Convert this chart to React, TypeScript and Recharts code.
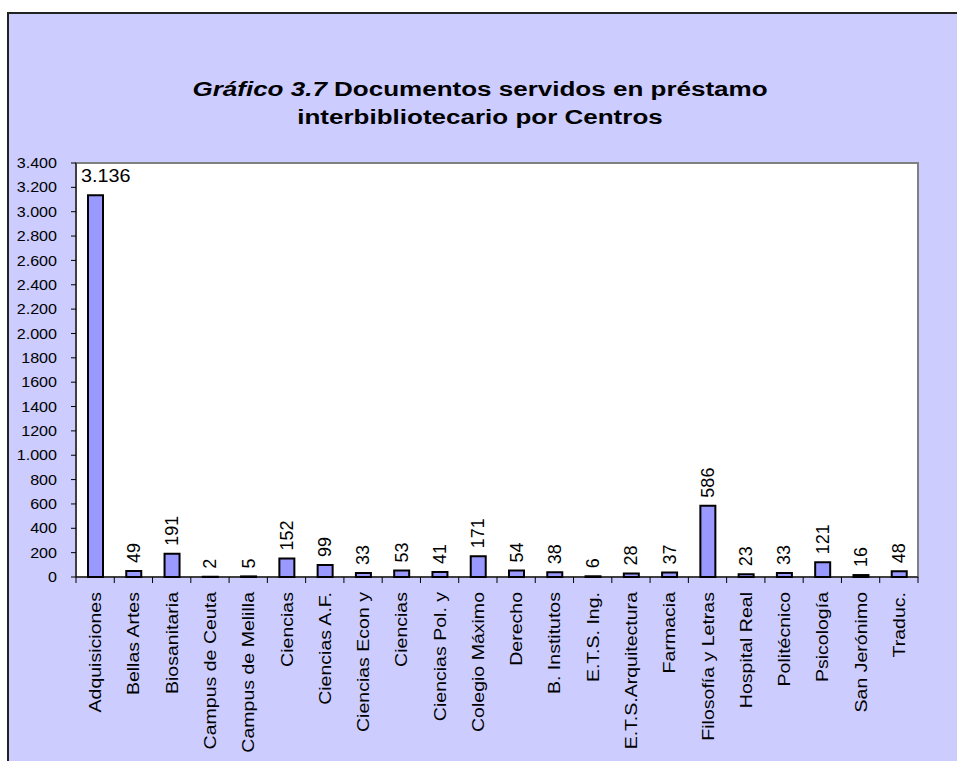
import React from "react";
import { BarChart, Bar, XAxis, YAxis, ReferenceArea, LabelList } from "recharts";

const categories = [
  "Adquisiciones", "Bellas Artes", "Biosanitaria", "Campus de Ceuta", "Campus de Melilla",
  "Ciencias", "Ciencias A.F.", "Ciencias Econ y", "Ciencias", "Ciencias Pol. y",
  "Colegio Máximo", "Derecho", "B. Institutos", "E.T.S. Ing.", "E.T.S.Arquitectura",
  "Farmacia", "Filosofía y Letras", "Hospital Real", "Politécnico", "Psicología",
  "San Jerónimo", "Traduc.",
];
const values = [3136, 49, 191, 2, 5, 152, 99, 33, 53, 41, 171, 54, 38, 6, 28, 37, 586, 23, 33, 121, 16, 48];
const valueLabels = ["3.136", "49", "191", "2", "5", "152", "99", "33", "53", "41", "171", "54", "38", "6", "28", "37", "586", "23", "33", "121", "16", "48"];
const yTicks = [0, 200, 400, 600, 800, 1000, 1200, 1400, 1600, 1800, 2000, 2200, 2400, 2600, 2800, 3000, 3200, 3400];
const yTickLabels = ["0", "200", "400", "600", "800", "1.000", "1200", "1400", "1600", "1800", "2.000", "2.200", "2.400", "2.600", "2.800", "3.000", "3.200", "3.400"];
const titleItalic = "Gráfico 3.7";
const titleRest = " Documentos servidos en préstamo";
const titleLine2 = "interbibliotecario por Centros";

const data = categories.map((name, i) => ({ name, value: values[i], label: valueLabels[i], idx: i }));

const FONT = "'Liberation Sans', Arial, sans-serif";

const XTick = (props: any) => {
  const { x, y, payload, index } = props;
  const half = payload && payload.offset ? payload.offset : 19.1;
  const top = y - 8;
  const lines = [
    <line key="l" x1={x - half} y1={top} x2={x - half} y2={top + 6} stroke="#000" strokeWidth={1} />,
  ];
  if (index === categories.length - 1) {
    lines.push(<line key="r" x1={x + half} y1={top} x2={x + half} y2={top + 6} stroke="#000" strokeWidth={1} />);
  }
  const ty = top + 15;
  return (
    <g>
      {lines}
      <text
        x={0}
        y={0}
        transform={`translate(${x}, ${ty}) rotate(-90) scale(1.15, 1)`}
        textAnchor="end"
        dominantBaseline="central"
        fontSize={17}
        fontFamily={FONT}
        fill="#000"
      >
        {payload.value}
      </text>
    </g>
  );
};

const YTick = (props: any) => {
  const { x, y, payload } = props;
  const label = yTickLabels[yTicks.indexOf(payload.value)];
  return (
    <text
      x={0}
      y={0}
      transform={`translate(${x - 12}, ${y}) scale(1.15, 1)`}
      textAnchor="end"
      dominantBaseline="central"
      fontSize={14}
      fontFamily={FONT}
      fill="#000"
    >
      {label}
    </text>
  );
};

const ValueLabel = (props: any) => {
  const { x, y, width, index } = props;
  const v = values[index];
  const txt = valueLabels[index];
  if (v > 3000) {
    return (
      <text
        x={0}
        y={0}
        transform={`translate(${x - 7}, ${y - 13}) scale(1.1, 1)`}
        fontSize={18}
        fontFamily={FONT}
        fill="#000"
        textAnchor="start"
      >
        {txt}
      </text>
    );
  }
  const cx = x + width / 2;
  const by = y - 8;
  return (
    <text
      x={0}
      y={0}
      transform={`translate(${cx}, ${by}) rotate(-90)`}
      textAnchor="start"
      dominantBaseline="central"
      fontSize={18}
      fontFamily={FONT}
      fill="#000"
    >
      {txt}
    </text>
  );
};

export default function App() {
  return (
    <div>
      <style>{"body{margin:0;}"}</style>
      <div
        style={{
          position: "absolute",
          left: 7,
          top: 12,
          width: 950,
          height: 749,
          background: "#CCCCFF",
          borderTop: "2px solid #222",
          borderLeft: "2px solid #222",
          boxSizing: "border-box",
          fontFamily: FONT,
        }}
      >
        <div
          style={{
            position: "absolute",
            left: 0,
            top: 61,
            width: 942,
            textAlign: "center",
            fontSize: 20,
            lineHeight: "28px",
            fontWeight: "bold",
            color: "#000",
            transform: "scaleX(1.3)",
            transformOrigin: "471px 0",
          }}
        >
          <div>
            <i>{titleItalic}</i>
            {titleRest}
          </div>
          <div>{titleLine2}</div>
        </div>
        <BarChart
          width={948}
          height={747}
          data={data}
          margin={{ top: 149, right: 39, left: 0, bottom: 0 }}
          style={{ position: "absolute", left: 0, top: 0 }}
        >
          <ReferenceArea y1={0} y2={3400} fill="#FFFFFF" fillOpacity={1} stroke="#808080" strokeWidth={2} ifOverflow="visible" />
          <XAxis
            dataKey="name"
            height={184}
            interval={0}
            tickLine={false}
            axisLine={{ stroke: "#000", strokeWidth: 1 }}
            tick={<XTick />}
          />
          <YAxis
            width={67}
            domain={[0, 3400]}
            ticks={yTicks}
            interval={0}
            tickSize={5}
            tickLine={{ stroke: "#000" }}
            axisLine={{ stroke: "#000", strokeWidth: 1 }}
            tick={<YTick />}
          />
          <Bar dataKey="value" fill="#9999FF" stroke="#000" strokeWidth={2} barSize={15} isAnimationActive={false}>
            <LabelList dataKey="value" content={<ValueLabel />} />
          </Bar>
        </BarChart>
      </div>
    </div>
  );
}
